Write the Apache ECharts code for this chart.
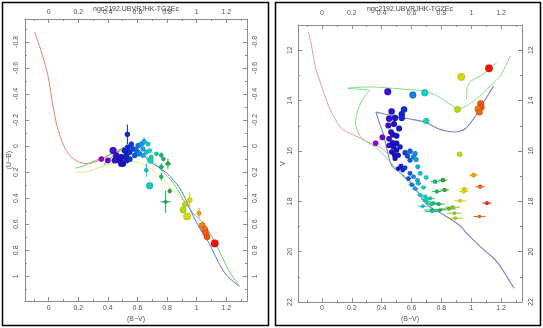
<!DOCTYPE html>
<html>
<head>
<meta charset="utf-8">
<script src="https://cdn.jsdelivr.net/npm/echarts@6/dist/echarts.min.js"></script>
<style>
html,body{margin:0;padding:0;background:#fff}
#chart{width:543px;height:328px}
</style>
</head>
<body>
<div id="chart"></div>
<script>
const plotTitle = 'ngc2192.UBVRJHK-TGZEc';

// ---- two-colour diagram: (B-V), (U-B), V, errors ----
const ccdBV = [0.356,0.40,0.435,0.457,0.491,0.48,0.502,0.525,0.547,0.525,
  0.547,0.514,0.536,0.57,0.559,0.581,0.457,0.491,0.446,0.532,
  0.604,0.626,0.592,0.637,0.61,0.637,0.645,0.671,0.66,0.682,
  0.693,0.687,0.682,0.728,0.761,0.775,0.806,0.761,0.66,0.761,
  0.818,0.79,0.919,0.953,0.908,0.935,1.016,1.038,1.054,1.061,
  1.07,1.122];
const ccdUB = [0.10,0.11,0.035,0.072,0.085,0.11,0.135,0.11,0.10,0.072,
  0.047,0.035,0.01,0.022,-0.015,0.072,0.098,0.135,0.11,-0.09,
  -0.003,-0.015,0.035,0.022,0.06,0.072,-0.035,-0.015,0.047,0.035,
  0.085,0.11,0.305,0.06,0.07,0.10,0.135,0.16,0.185,0.235,
  0.345,0.428,0.447,0.415,0.49,0.54,0.515,0.61,0.64,0.667,
  0.697,0.747];
const ccdV = [15.69,15.46,13.65,14.7,14.9,14.4,14.6,15.0,15.2,15.3,
  15.6,15.1,15.7,15.9,16.0,16.1,14.4,14.5,14.9,16.0,
  16.1,16.2,16.0,16.3,16.2,16.4,16.6,16.6,16.8,16.9,
  16.9,14.8,13.69,17.2,17.3,17.4,17.5,17.6,17.3,17.8,
  17.5,18.1,16.1,16.0,14.35,13.06,16.96,14.1,14.2,14.3,
  14.45,12.72];
const ccdErrBV = [0,0,0,0,0,0,0,0,0,0,
  0,0,0,0,0,0,0,0,0,0.012,
  0,0,0,0,0,0,0.012,0,0,0,
  0,0,0,0,0.008,0,0.02,0.02,0.01,0.01,
  0.01,0.035,0,0.01,0,0,0.01,0,0,0,
  0,0];
const ccdErrUB = [0,0,0,0,0,0,0,0,0,0,
  0,0,0,0,0,0,0,0,0,0.075,
  0,0,0,0,0,0,0.03,0,0,0,
  0,0,0,0,0.02,0,0.04,0.03,0.05,0.03,
  0.02,0.085,0,0.06,0,0,0.04,0,0,0,
  0,0];

// sequences in the two-colour plane
const ccdRed = [[-0.095,-0.875],[-0.06,-0.76],[-0.03,-0.65],[-0.005,-0.54],[0.012,-0.43],[0.025,-0.33],
  [0.04,-0.24],[0.055,-0.16],[0.074,-0.09],[0.095,-0.02],[0.12,0.035],[0.15,0.08],[0.176,0.105],
  [0.21,0.125],[0.25,0.135],[0.32,0.12],[0.39,0.08],[0.45,0.04],[0.5,0.02]];
const ccdLime = [[0.18,0.2],[0.23,0.2],[0.28,0.19],[0.34,0.165],[0.41,0.14],[0.48,0.125],[0.57,0.12],
  [0.64,0.14],[0.7,0.18],[0.76,0.24],[0.82,0.31],[0.87,0.37],[0.92,0.43]];
const ccdGreen = [[0.18,0.17],[0.23,0.155],[0.28,0.13],[0.34,0.1],[0.41,0.07],[0.48,0.04],[0.55,0.03],
  [0.61,0.045],[0.66,0.08],[0.71,0.125],[0.75,0.17],[0.8,0.23],[0.84,0.28],[0.88,0.35],[0.92,0.43],
  [0.98,0.52],[1.04,0.585],[1.09,0.67],[1.133,0.76],[1.18,0.87],[1.22,0.96],[1.29,1.08]];
const ccdBlue = [[0.37,0.145],[0.42,0.09],[0.47,0.04],[0.53,0.0],[0.58,0.01],[0.63,0.05],[0.68,0.12],
  [0.74,0.16],[0.8,0.21],[0.85,0.27],[0.89,0.33],[0.93,0.42],[0.97,0.52],[1.02,0.63],[1.06,0.7],
  [1.09,0.76],[1.12,0.83],[1.155,0.91],[1.2,0.99],[1.28,1.07]];

// ---- colour-magnitude diagram: (B-V), V, error ----
const cmdBV = [1.119,0.933,0.441,0.609,0.689,1.063,1.067,1.045,1.055,0.908,
  0.698,0.467,0.55,0.535,0.45,0.49,0.535,0.445,0.483,0.517,
  0.463,0.405,0.36,0.45,0.474,0.50,0.523,0.45,0.48,0.467,
  0.50,0.485,0.512,0.49,0.475,0.50,0.557,0.59,0.624,0.573,
  0.613,0.59,0.631,0.53,0.557,0.541,0.512,0.642,0.59,0.658,
  0.613,0.58,0.64,0.698,0.602,0.646,0.68,0.625,0.658,0.691,
  0.725,0.758,0.77,0.702,0.747,0.81,0.821,0.736,0.792,0.693,
  0.734,0.783,0.738,0.675,0.922,1.016,1.06,0.955,0.949,1.105,
  0.926,1.055,0.875,0.888,0.893,0.85];
const cmdV = [12.72,13.06,13.65,13.78,13.69,14.12,14.27,14.33,14.46,14.35,
  14.81,14.43,14.35,14.54,14.72,14.69,14.69,14.99,14.93,15.11,
  15.25,15.46,15.69,15.52,15.67,15.69,15.84,15.78,15.84,16.04,
  15.97,16.15,16.17,16.3,15.35,15.4,16.07,16.01,16.1,16.2,
  16.24,16.37,16.34,16.6,16.67,16.76,16.7,16.63,16.89,16.89,
  17.02,17.09,17.16,17.05,17.35,17.29,17.45,17.5,17.75,17.81,
  17.88,17.22,17.61,18.01,18.07,17.16,17.55,18.34,18.34,17.92,
  18.11,18.11,18.4,18.2,16.13,16.96,17.42,17.51,17.61,18.07,
  17.98,18.6,18.23,18.47,18.67,18.3];
const cmdErrBV = [0,0,0,0,0,0,0,0,0,0,
  0,0,0,0,0,0,0,0,0,0,
  0,0,0,0,0,0,0,0,0,0,
  0,0,0,0,0,0,0,0,0,0,
  0,0,0,0,0,0,0,0.01,0.01,0.01,
  0.015,0.015,0.015,0.015,0.02,0.02,0.02,0.02,0.02,0.02,
  0.03,0.03,0.03,0.03,0.04,0.03,0.03,0.05,0.04,0.03,
  0.04,0.04,0.05,0.03,0.02,0.03,0.03,0.03,0.03,0.03,
  0.04,0.04,0.05,0.05,0.05,0.05];

// isochrones / sequences in the CMD
const cmdRed = [[-0.09,11.28],[-0.07,11.8],[-0.045,12.63],[-0.01,13.3],[0.028,13.94],[0.05,14.3],
  [0.078,14.6],[0.105,14.9],[0.134,15.12],[0.18,15.28],[0.22,15.39],[0.31,15.65],[0.4,15.9],[0.44,16.1]];
const cmdBlue = [[1.287,21.45],[1.24,21.0],[1.186,20.5],[1.14,20.2],[1.096,19.98],[1.0,19.45],[0.917,18.93],
  [0.82,18.55],[0.716,18.2],[0.66,17.8],[0.613,17.35],[0.54,16.95],[0.467,16.57],[0.434,15.9],[0.41,15.3],
  [0.38,14.8],[0.362,14.46],[0.44,14.56],[0.515,14.66],[0.6,14.74],[0.693,14.86],[0.78,15.12],[0.84,15.22],
  [0.895,15.25],[0.96,15.12],[1.03,14.6],[1.096,13.94],[1.15,13.42]];
const cmdGreen = [[0.78,18.45],[0.7,18.05],[0.62,17.5],[0.55,17.05],[0.479,16.57],[0.42,16.2],[0.37,15.9],
  [0.32,15.71],[0.26,15.45],[0.225,14.9],[0.235,14.5],[0.26,14.1],[0.3,13.72],[0.32,13.6],[0.174,13.51],
  [0.25,13.47],[0.31,13.46],[0.4,13.48],[0.55,13.55],[0.67,13.61],[0.75,13.75],[0.805,13.94],[0.86,14.15],
  [0.915,14.33],[0.97,14.2],[1.03,13.95],[1.083,13.68],[1.14,13.35],[1.195,13.02],[1.26,12.24]];
const cmdGreenBranch = [[1.17,12.5],[1.08,12.95],[1.0,13.22],[0.975,13.45],[0.97,13.7],[0.968,13.94]];

// rainbow keyed on (B-V)
const rainbow = ['#b000d0','#8000d0','#5010d0','#2a10c8','#1414c4','#1028d0','#1050e0','#1090e8',
  '#10c0e0','#10d8b8','#10c888','#18b058','#30a030','#70c020','#a8d810','#d8e000','#f0c800',
  '#f0a000','#f06010','#f02000','#ff0000'];

const ccdData = ccdBV.map((x, i) => [x, ccdUB[i], ccdV[i], ccdErrBV[i], ccdErrUB[i]]);
const cmdData = cmdBV.map((x, i) => [x, cmdV[i], cmdErrBV[i]]);

const font = 'Liberation Sans, Arial, sans-serif';
const axisGray = '#8c8c8c';
const labelColor = '#555';

function stepFormatter(step) {
  return v => {
    const k = v / step;
    return Math.abs(k - Math.round(k)) < 1e-6 ? String(+v.toFixed(2)) : '';
  };
}

function axisBase(extra) {
  return Object.assign({
    type: 'value',
    axisLine: { show: true, onZero: false, lineStyle: { color: axisGray, width: 1 } },
    axisTick: { show: true, inside: true, length: 4, lineStyle: { color: axisGray } },
    minorTick: { show: true, splitNumber: 2, length: 2, lineStyle: { color: axisGray } },
    splitLine: { show: false },
    axisLabel: { color: labelColor, fontSize: 7, fontFamily: font },
    nameTextStyle: { color: labelColor, fontSize: 7, fontFamily: font }
  }, extra);
}

function xAxisFor(grid, pos, margin, name) {
  const a = axisBase({
    gridIndex: grid, position: pos, min: -0.16, max: 1.34, splitNumber: 7
  });
  a.axisLabel = Object.assign({}, a.axisLabel, { margin: margin, formatter: stepFormatter(0.2) });
  if (name) { a.name = name; a.nameLocation = 'middle'; a.nameGap = 13; }
  return a;
}

function yAxisFor(grid, pos, min, max, split, step, margin, name, gap) {
  const a = axisBase({
    gridIndex: grid, position: pos, min: min, max: max, splitNumber: split, inverse: true
  });
  a.axisLabel = Object.assign({}, a.axisLabel, { margin: margin, rotate: 90, formatter: stepFormatter(step) });
  if (name) { a.name = name; a.nameLocation = 'middle'; a.nameRotate = 90; a.nameGap = gap; }
  return a;
}

function errorBars(xDim, yDim, exDim, eyDim) {
  return function (params, api) {
    const x = api.value(xDim), y = api.value(yDim);
    const ex = api.value(exDim), ey = eyDim == null ? 0 : api.value(eyDim);
    const style = { stroke: api.visual('color'), lineWidth: 1 };
    const children = [];
    if (ex > 0) {
      const a = api.coord([x - ex, y]), b = api.coord([x + ex, y]);
      children.push({ type: 'line', shape: { x1: a[0], y1: a[1], x2: b[0], y2: b[1] }, style: style });
    }
    if (ey > 0) {
      const a = api.coord([x, y - ey]), b = api.coord([x, y + ey]);
      children.push({ type: 'line', shape: { x1: a[0], y1: a[1], x2: b[0], y2: b[1] }, style: style });
    }
    return { type: 'group', children: children };
  };
}

function curve(data, color, xi, yi, width) {
  return {
    type: 'line', data: data, xAxisIndex: xi, yAxisIndex: yi,
    symbol: 'none', smooth: 0.25, silent: true, z: 1,
    lineStyle: { color: color, width: width || 1 }
  };
}

const chart = echarts.init(document.getElementById('chart'), null, { renderer: 'canvas' });

chart.setOption({
  animation: false,
  backgroundColor: '#fff',
  grid: [
    { left: 25, top: 19, width: 222, height: 288 },
    { left: 298, top: 25, width: 224, height: 279 }
  ],
  xAxis: [
    xAxisFor(0, 'bottom', 3, '(B\u2212V)'),
    xAxisFor(0, 'top', 3),
    xAxisFor(1, 'bottom', 2, '(B\u2212V)'),
    xAxisFor(1, 'top', 8)
  ],
  yAxis: [
    yAxisFor(0, 'left', -0.975, 1.19, 10, 0.2, 5, '(U\u2212B)', 12),
    yAxisFor(0, 'right', -0.975, 1.19, 10, 0.2, 5),
    yAxisFor(1, 'left', 11, 22, 5, 2, 4, 'V', 10),
    yAxisFor(1, 'right', 11, 22, 5, 2, 6)
  ],
  visualMap: [
    { type: 'continuous', show: false, dimension: 0, min: 0.34, max: 1.14,
      seriesIndex: [4, 5, 10, 11], inRange: { color: rainbow } },
    { type: 'continuous', show: false, dimension: 2, min: 12.5, max: 18.8,
      seriesIndex: [5], inRange: { symbolSize: [7.8, 3.2] } },
    { type: 'continuous', show: false, dimension: 1, min: 12.5, max: 18.8,
      seriesIndex: [11], inRange: { symbolSize: [7.8, 3.2] } }
  ],
  series: [
    curve(ccdRed, '#ee7b7b', 0, 0),
    curve(ccdLime, '#d6f07a', 0, 0),
    curve(ccdGreen, '#5fd85f', 0, 0),
    curve(ccdBlue, '#6a6ae0', 0, 0),
    { type: 'custom', xAxisIndex: 0, yAxisIndex: 0, data: ccdData, z: 2,
      renderItem: errorBars(0, 1, 3, 4), silent: true },
    { type: 'scatter', xAxisIndex: 0, yAxisIndex: 0, data: ccdData, z: 3,
      symbol: 'circle', itemStyle: { opacity: 1, borderColor: 'rgba(0,0,0,0.25)', borderWidth: 0.5 } },
    curve(cmdRed, '#ef9a9a', 2, 2),
    curve(cmdBlue, '#7480d0', 2, 2, 1.1),
    curve(cmdGreen, '#7ee07e', 2, 2),
    curve(cmdGreenBranch, '#7ee07e', 2, 2),
    { type: 'custom', xAxisIndex: 2, yAxisIndex: 2, data: cmdData, z: 2,
      renderItem: errorBars(0, 1, 2, null), silent: true },
    { type: 'scatter', xAxisIndex: 2, yAxisIndex: 2, data: cmdData, z: 3,
      symbol: 'circle', itemStyle: { opacity: 1, borderColor: 'rgba(0,0,0,0.25)', borderWidth: 0.5 } }
  ],
  graphic: [
    { type: 'rect', shape: { x: 2.5, y: 2.5, width: 266, height: 323 },
      style: { fill: null, stroke: '#000', lineWidth: 1.5 }, silent: true },
    { type: 'rect', shape: { x: 275.5, y: 2.5, width: 265, height: 323 },
      style: { fill: null, stroke: '#000', lineWidth: 1.5 }, silent: true },
    { type: 'text', x: 136, y: 9, style: { text: plotTitle, fill: '#444', fontSize: 7,
      fontFamily: font, align: 'center', verticalAlign: 'middle' }, silent: true },
    { type: 'text', x: 410, y: 9, style: { text: plotTitle, fill: '#444', fontSize: 7,
      fontFamily: font, align: 'center', verticalAlign: 'middle' }, silent: true }
  ]
});
</script>
</body>
</html>
